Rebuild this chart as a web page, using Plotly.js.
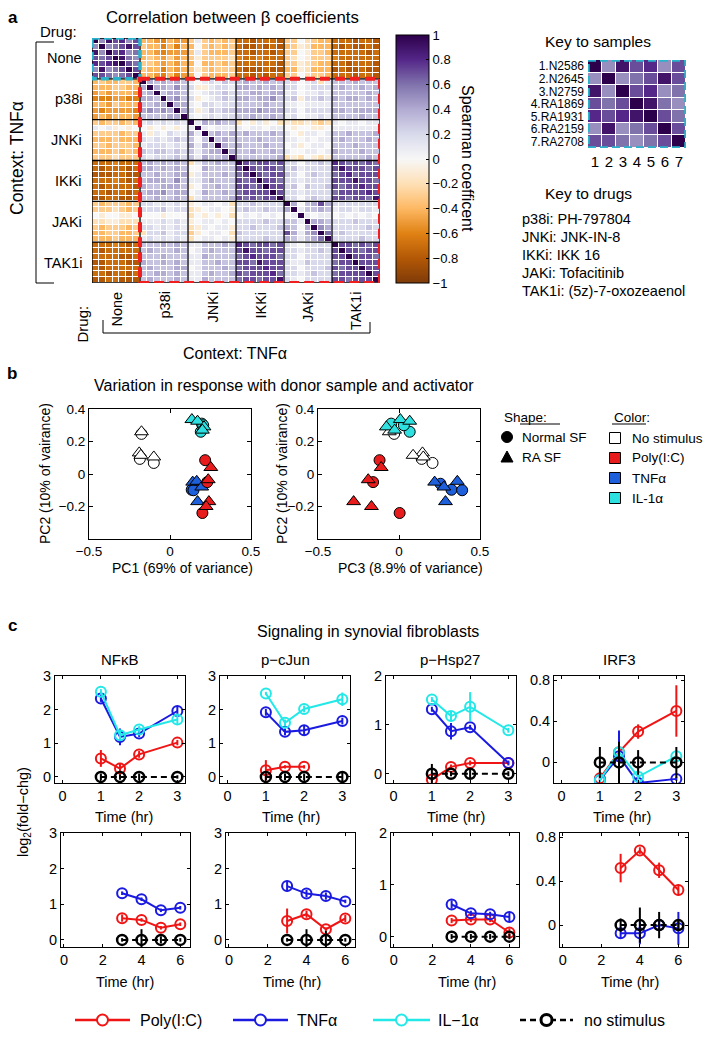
<!DOCTYPE html>
<html>
<head>
<meta charset="utf-8">
<script src="https://cdn.plot.ly/plotly-3.0.1.min.js"></script>
<style>
html,body{margin:0;padding:0;background:#fff;}
#chart{width:706px;height:1039px;}
</style>
</head>
<body>
<div id="chart"></div>
<script>
// ================= DATA =================
// ---- Panel a ----
const drugs = ['None','p38i','JNKi','IKKi','JAKi','TAK1i'];
const sampleLabels = ['1.N2586','2.N2645','3.N2759','4.RA1869','5.RA1931','6.RA2159','7.RA2708'];
const sampleTicks = ['1','2','3','4','5','6','7'];
const drugKey = ['p38i: PH-797804','JNKi: JNK-IN-8','IKKi: IKK 16','JAKi: Tofacitinib','TAK1i: (5z)-7-oxozeaenol'];
const colorbarTicks = [-1,-0.8,-0.6,-0.4,-0.2,0,0.2,0.4,0.6,0.8,1];
const colorbarText = ['\u22121','\u22120.8','\u22120.6','\u22120.4','\u22120.2','0','0.2','0.4','0.6','0.8','1'];
// Spearman coefficients read per cell, coded: j=-1.0 ... a=-0.1, 0=0, A=0.1 ... J=1.0
const LEVELS = 'jihgfedcba0ABCDEFGHIJ';
const rho_None_None   = ['JEIGHEG','EJEFGIG','IEJGHEF','GFGJIFE','HGHIJGF','EIEFGJG','GGFEFGJ'];
const rho_None_p38i   = ['ddefdee','cddfdfd','ddefeee','dcdeced','ccdeded','cddfded','ddefdfe'];
const rho_None_JNKi   = ['cAcdcdc','d0cdcdc','cAcdddc','caccccb','d0ddcdc','cacdccc','d0cdddc'];
const rho_None_IKKi   = ['gghgggh','ghhghgh','gghgghg','fggfggg','ggggggh','ghhhghh','gghghgg'];
const rho_None_JAKi   = ['cc0bcdd','dcabddd','cc0accd','cb0accc','ccabcdd','ddabddd','cc0bccd'];
const rho_None_TAK1i  = ['ggghggh','ghghhgh','ggggghg','fgggggg','gghgggh','hghhghh','ggghggh'];
const rho_p38i_p38i   = ['JDCDCDC','DJDDCEC','CDJCDDC','DDCJDEC','CCDDJDD','DEDEDJD','CCCCDDJ'];
const rho_p38i_JNKi   = ['A0ABACB','BaaABBA','A0ABBCB','Ba0ABCB','A0BBABB','BaACBCC','A0ABABB'];
const rho_p38i_IKKi   = ['CDCCDCC','DDCDCDC','CCDDCDD','DDCDDEC','CCCCDCC','DDDEDDD','CCDCCDC'];
const rho_p38i_JAKi   = ['BB0ABbA','BB0ABBB','AB0AABA','BCaBBCB','AA0AAAA','BB0BBBB','AB0AABA'];
const rho_p38i_TAK1i  = ['CCCDCCC','CDCCDCD','CCCCCDC','DCDDCDC','CCCCCCC','DDCDDDD','CCCCDCC'];
const rho_JNKi_JNKi   = ['JADCDCC','AJA0AAA','DAJCDCD','C0CJCDC','DADCJDC','CACDDJD','CADCCDJ'];
const rho_JNKi_IKKi   = ['b0aAa0b','A0AA0AA','CDCCCDC','CCCDCCC','DCCCDCC','CCDCCDC','CCCCCCD'];
const rho_JNKi_JAKi   = ['abbabcb','0a00aa0','A0aAA0A','AA0A0AA','0Aa0AA0','A00AA0A','bab0aba'];
const rho_JNKi_TAK1i  = ['A0AA0AA','AAAAAAA','CCDCCCD','CDCCCDC','CCCDCCC','DCCCDCC','CCCCCDC'];
const rho_IKKi_IKKi   = ['JGFGGFG','GJGFGGF','FGJGFGG','GFGJGGF','GGFGJGG','FGGGGJG','GFGFGGJ'];
const rho_IKKi_JAKi   = ['BB0BBCB','BCABBBB','CB0BCBB','BBABBBB','BC0CBBC','BBABBBB','BB0BCBB'];
const rho_IKKi_TAK1i  = ['HGFGFGF','GIGGGFG','FGHFGGG','GGGIGGF','GFGGHGG','FGGGGHG','GGFGGFI'];
const rho_JAKi_JAKi   = ['JD0CDGD','DJACCDC','0AJA0AA','CCAJDDC','DC0DJED','GDADEJF','DCACDFJ'];
const rho_JAKi_TAK1i  = ['BBBBBBB','ABBABBA','0A0A0A0','BBBCBBB','BBBBBCB','BCBBBBB','BBBBCBB'];
const rho_TAK1i_TAK1i = ['JGGFGFG','GJGGFGG','GGJGGGF','FGGJGGG','GFGGJGG','FGGGGJG','GGFGGGJ'];

// ---- Panel b (samples 1-3 Normal SF, 4-7 RA SF) ----
const donorType = ['Normal','Normal','Normal','RA','RA','RA','RA'];
const noStimPC1 = [-0.176,-0.186,-0.10,-0.176,-0.19,-0.18,-0.10];
const noStimPC2 = [0.247,0.093,0.068,0.26,0.13,0.115,0.105];
const noStimPC3 = [-0.03,0.14,0.207,-0.06,0.145,0.087,0.15];
const il1PC1 = [0.196,0.19,0.205,0.135,0.17,0.21,0.2];
const il1PC2 = [0.31,0.26,0.30,0.335,0.325,0.29,0.27];
const il1PC3 = [-0.048,0.066,0.03,0.008,0.066,-0.078,-0.027];
const tnfPC1 = [0.155,0.134,0.145,0.14,0.165,0.196,0.17];
const tnfPC2 = [-0.06,-0.097,-0.1,-0.05,-0.045,-0.08,-0.17];
const tnfPC3 = [0.256,0.324,0.39,0.22,0.36,0.277,0.287];
const polyPC1 = [0.217,0.23,0.2,0.252,0.236,0.24,0.223];
const polyPC2 = [0.085,-0.05,-0.24,0.04,-0.035,-0.17,-0.2];
const polyPC3 = [-0.12,-0.16,0.004,-0.11,-0.19,-0.28,-0.17];

// ---- Panel c (series order: Poly(I:C), TNFα, IL-1α, no stimulus) ----
const stimNames = ['Poly(I:C)','TNF\u03b1','IL\u22121\u03b1','no stimulus'];
const readouts = ['NF\u03baB','p\u2212cJun','p\u2212Hsp27','IRF3'];
const tEarly = [1,1.5,2,3];
const tLate = [3,4,5,6];
const nfkbEarly    = [[0.55,0.25,0.67,1.02],[2.33,1.19,1.29,1.96],[2.53,1.24,1.41,1.71],[0,0,0,0]];
const nfkbEarlyErr = [[0.25,0.15,0.1,0.08],[0.1,0.25,0.1,0.15],[0.08,0.15,0.1,0.15],[0.1,0.08,0.1,0.05]];
const cjunEarly    = [[0.2,0.3,0.3,null],[1.92,1.34,1.39,1.66],[2.48,1.61,2.02,2.31],[0,0,0,0]];
const cjunEarlyErr = [[0.3,0.05,0.05,0],[0.1,0.1,0.15,0.1],[0.05,0.1,0.1,0.2],[0.1,0.1,0.1,0.15]];
const hspEarly     = [[-0.12,0.14,0.22,0.22],[1.32,0.87,0.95,0.22],[1.52,1.18,1.37,0.89],[0,0,0,0]];
const hspEarlyErr  = [[0.05,0.05,0.05,0.03],[0.05,0.17,0.05,0.05],[0.05,0.1,0.3,0.05],[0.2,0.05,0.1,0.05]];
const irf3Early    = [[-0.155,0.1,0.3,0.5],[-0.17,0.06,-0.2,-0.16],[-0.17,0.1,-0.14,0.06],[0,0,0,0]];
const irf3EarlyErr = [[0.02,0.05,0.07,0.25],[0.02,0.25,0.02,0.02],[0.02,0.08,0.03,0.03],[0.15,0.2,0.12,0.15]];
const nfkbLate     = [[0.61,0.56,0.34,0.44],[1.31,1.14,0.83,0.9],null,[0,0,0,0]];
const nfkbLateErr  = [[0.1,0.05,0.05,0.05],[0.05,0.05,0.05,0.05],null,[0.05,0.3,0.1,0.05]];
const cjunLate     = [[0.53,0.72,0.3,0.6],[1.51,1.3,1.23,1.08],null,[0,0,0,0]];
const cjunLateErr  = [[0.35,0.1,0.05,0.1],[0.15,0.1,0.1,0.05],null,[0.05,0.3,0.25,0.05]];
const hspLate      = [[0.31,0.33,0.33,0.08],[0.62,0.45,0.43,0.38],null,[0,0,0,0]];
const hspLateErr   = [[0.05,0.05,0.05,0.08],[0.08,0.05,0.05,0.08],null,[0.05,0.05,0.05,0.05]];
const irf3Late     = [[0.52,0.68,0.5,0.32],[-0.075,-0.075,0,-0.03],null,[0,0,0,0]];
const irf3LateErr  = [[0.13,0.03,0.07,0.05],[0.05,0.1,0.05,0.15],null,[0.06,0.16,0.12,0.05]];

// ================= BUILD =================
const W = 706, H = 1039;
const FONT = '"Liberation Sans", Arial, Helvetica, sans-serif';
const px = x => x / W, py = y => 1 - y / H;

const blocks = {
  'None|None':rho_None_None,'None|p38i':rho_None_p38i,'None|JNKi':rho_None_JNKi,'None|IKKi':rho_None_IKKi,'None|JAKi':rho_None_JAKi,'None|TAK1i':rho_None_TAK1i,
  'p38i|p38i':rho_p38i_p38i,'p38i|JNKi':rho_p38i_JNKi,'p38i|IKKi':rho_p38i_IKKi,'p38i|JAKi':rho_p38i_JAKi,'p38i|TAK1i':rho_p38i_TAK1i,
  'JNKi|JNKi':rho_JNKi_JNKi,'JNKi|IKKi':rho_JNKi_IKKi,'JNKi|JAKi':rho_JNKi_JAKi,'JNKi|TAK1i':rho_JNKi_TAK1i,
  'IKKi|IKKi':rho_IKKi_IKKi,'IKKi|JAKi':rho_IKKi_JAKi,'IKKi|TAK1i':rho_IKKi_TAK1i,
  'JAKi|JAKi':rho_JAKi_JAKi,'JAKi|TAK1i':rho_JAKi_TAK1i,'TAK1i|TAK1i':rho_TAK1i_TAK1i
};
const nS = sampleLabels.length, nD = drugs.length, N = nS * nD;
const code = ch => (LEVELS.indexOf(ch) - 10) / 10;
const zMat = [];
for (let r = 0; r < N; r++) {
  const row = [];
  for (let c = 0; c < N; c++) {
    const br = Math.floor(r / nS), bc = Math.floor(c / nS), ir = r % nS, ic = c % nS;
    let ch;
    if (br < bc) ch = blocks[drugs[br] + '|' + drugs[bc]][ir][ic];
    else if (br > bc) ch = blocks[drugs[bc] + '|' + drugs[br]][ic][ir];
    else { const b = blocks[drugs[br] + '|' + drugs[bc]]; ch = ir <= ic ? b[ir][ic] : b[ic][ir]; }
    row.push(code(ch));
  }
  zMat.push(row);
}
const idx = Array.from({length: N}, (_, i) => i);
const idxS = Array.from({length: nS}, (_, i) => i);
const keyZ = zMat.slice(0, nS).map(r => r.slice(0, nS));

const PuOr = [[0,'#7f3b08'],[0.1,'#b35806'],[0.2,'#e08214'],[0.3,'#fdb863'],[0.4,'#fee0b6'],[0.5,'#f7f7f7'],[0.6,'#d8daeb'],[0.7,'#b2abd2'],[0.8,'#8073ac'],[0.9,'#542788'],[1,'#2d004b']];

const traces = [];
traces.push({
  type:'heatmap', z:zMat, x:idx, y:idx, xaxis:'x', yaxis:'y',
  colorscale:PuOr, zmin:-1, zmax:1, xgap:1, ygap:1, hoverinfo:'skip',
  colorbar:{x:px(396), xanchor:'left', y:py(35), yanchor:'top', len:248, lenmode:'pixels',
    thickness:33, thicknessmode:'pixels', outlinewidth:1, outlinecolor:'#000',
    tickvals:colorbarTicks, ticktext:colorbarText, ticks:'inside', ticklen:3, tickcolor:'#000',
    tickfont:{family:FONT, size:13, color:'#000'}, xpad:0, ypad:0}
});
traces.push({
  type:'heatmap', z:keyZ, x:idxS, y:idxS, xaxis:'x2', yaxis:'y2',
  colorscale:PuOr, zmin:-1, zmax:1, xgap:1, ygap:1, showscale:false, hoverinfo:'skip'
});

// panel b
const bConds = [
  {color:'#ffffff', pc1:noStimPC1, pc2:noStimPC2, pc3:noStimPC3},
  {color:'#2ee0e0', pc1:il1PC1, pc2:il1PC2, pc3:il1PC3},
  {color:'#1e5fdc', pc1:tnfPC1, pc2:tnfPC2, pc3:tnfPC3},
  {color:'#e81c1c', pc1:polyPC1, pc2:polyPC2, pc3:polyPC3}
];
[['x3','y3','pc1'],['x4','y4','pc3']].forEach(([xa, ya, key]) => {
  bConds.forEach(cd => {
    ['Normal','RA'].forEach(tp => {
      const sel = donorType.map((d, i) => d === tp ? i : -1).filter(i => i >= 0);
      traces.push({
        type:'scatter', mode:'markers', xaxis:xa, yaxis:ya, hoverinfo:'skip', showlegend:false,
        x: sel.map(i => cd[key][i]), y: sel.map(i => cd.pc2[i]),
        marker:{symbol: tp === 'Normal' ? 'circle' : 'triangle-up', size: tp === 'Normal' ? 11 : 12,
          color:cd.color, line:{color:'#000', width:1}}
      });
    });
  });
});

// panel c
const cColors = ['#f01414','#1a1ae0','#22e8e8','#000000'];
const cPanels = [
  {v:nfkbEarly, e:nfkbEarlyErr, t:tEarly}, {v:cjunEarly, e:cjunEarlyErr, t:tEarly},
  {v:hspEarly, e:hspEarlyErr, t:tEarly}, {v:irf3Early, e:irf3EarlyErr, t:tEarly},
  {v:nfkbLate, e:nfkbLateErr, t:tLate}, {v:cjunLate, e:cjunLateErr, t:tLate},
  {v:hspLate, e:hspLateErr, t:tLate}, {v:irf3Late, e:irf3LateErr, t:tLate}
];
cPanels.forEach((p, pi) => {
  const n = pi + 5;
  p.v.forEach((vals, k) => {
    if (!vals) return;
    traces.push({
      type:'scatter', mode:'lines+markers', x:p.t, y:vals, xaxis:'x' + n, yaxis:'y' + n,
      hoverinfo:'skip', showlegend:false, connectgaps:false,
      line:{color:cColors[k], width:2, dash: k === 3 ? '6px,4px' : 'solid'},
      marker:{symbol:'circle-open', size:10, color:cColors[k], line:{color:cColors[k], width: k === 3 ? 2.5 : 2}},
      error_y:{type:'data', array:p.e[k], visible:true, color:cColors[k], thickness:2, width:0}
    });
  });
});

// ================= LAYOUT =================
const layout = {
  width:W, height:H, margin:{l:0, r:0, t:0, b:0, pad:0},
  paper_bgcolor:'#fff', plot_bgcolor:'#fff', showlegend:false, hovermode:false,
  font:{family:FONT, size:13, color:'#000'},
  annotations:[], shapes:[]
};
const dom = (x0, x1, y0, y1) => ({x:[px(x0), px(x1)], y:[py(y1), py(y0)]});

// main heatmap axes
let d = dom(92, 380, 38, 283);
layout.xaxis = {domain:d.x, range:[-0.5, N - 0.5], visible:false, anchor:'y', fixedrange:true};
layout.yaxis = {domain:d.y, range:[N - 0.5, -0.5], visible:false, anchor:'x', fixedrange:true};
// key heatmap axes
d = dom(588, 686, 60, 148);
layout.xaxis2 = {domain:d.x, range:[-0.5, nS - 0.5], anchor:'y2', tickvals:idxS, ticktext:sampleTicks,
  ticks:'', showline:false, showgrid:false, zeroline:false, tickfont:{family:FONT, size:15}, ticklabelstandoff:3};
layout.yaxis2 = {domain:d.y, range:[nS - 0.5, -0.5], anchor:'x2', tickvals:idxS, ticktext:sampleLabels,
  ticks:'', showline:false, showgrid:false, zeroline:false, tickfont:{family:FONT, size:12}, ticklabelstandoff:3};

const boxAxis = (extra) => Object.assign({showline:true, linecolor:'#000', linewidth:1, mirror:'ticks',
  ticks:'inside', ticklen:4, tickcolor:'#000', tickwidth:1, showgrid:false, zeroline:false,
  fixedrange:true}, extra);
// panel b axes
[[89, 251, 3], [318, 480, 4]].forEach(([x0, x1, n]) => {
  const dd = dom(x0, x1, 409, 539);
  layout['xaxis' + n] = boxAxis({domain:dd.x, range:[-0.5, 0.5], tickvals:[-0.5, 0, 0.5], anchor:'y' + n,
    tickfont:{family:FONT, size:13.5}});
  layout['yaxis' + n] = boxAxis({domain:dd.y, range:[-0.4, 0.4], tickvals:[-0.2, 0, 0.2, 0.4], anchor:'x' + n,
    tickfont:{family:FONT, size:13.5}});
});
// panel c axes
const cBoxes = [[55,185,676,783],[220,350,676,783],[386,516,676,783],[554,684,676,783],
                [61,190,833,947],[226,355,833,947],[391,519,833,947],[560,688,833,947]];
const cYRange = [[-0.18,3],[-0.18,3],[-0.19,2],[-0.2,0.84],[-0.2,3],[-0.2,3],[-0.2,2],[-0.2,0.84]];
const cYTicks = [[0,1,2,3],[0,1,2,3],[0,1,2],[0,0.4,0.8],[0,1,2,3],[0,1,2,3],[0,1,2],[0,0.4,0.8]];
cBoxes.forEach((b, i) => {
  const n = i + 5, dd = dom(b[0], b[1], b[2], b[3]);
  const early = i < 4;
  layout['xaxis' + n] = boxAxis({domain:dd.x, anchor:'y' + n, range: early ? [-0.2, 3.2] : [-0.15, 6.5],
    tickvals: early ? [0,1,2,3] : [0,2,4,6], ticklen:3, tickfont:{family:FONT, size:14.5}});
  layout['yaxis' + n] = boxAxis({domain:dd.y, anchor:'x' + n, range:cYRange[i], tickvals:cYTicks[i],
    ticklen:3, tickfont:{family:FONT, size:14.5}});
});

// ---- annotations ----
const A = (text, x, y, o = {}) => layout.annotations.push(Object.assign({
  text, x:px(x), y:py(y), xref:'paper', yref:'paper', showarrow:false,
  xanchor:'center', yanchor:'middle'
}, o, {font:{family:FONT, size:o.size || 13, color:'#000'}}));

A('<b>a</b>', 13, 17, {size:17});
A('Correlation between \u03b2 coefficients', 232, 17, {size:16.8});
A('Drug:', 58, 32, {size:15});
A('Context: TNF\u03b1', 17, 158, {size:17.5, textangle:-90});
const blockH = 245 / nD, blockW = 288 / nD;
drugs.forEach((dn, i) => {
  A(dn, 84, 38 + blockH * (i + 0.5), {size:14.5, xanchor:'right'});
  A(dn, 92 + blockW * (i + 0.5), 290, {size:14.5, textangle:-90, yanchor:'top'});
});
A('Drug:', 82, 304, {size:15, textangle:-90, yanchor:'top'});
A('Context: TNF\u03b1', 235, 353, {size:16});
A('Spearman coefficent', 468, 158, {size:16, textangle:90});
A('Key to samples', 598, 42, {size:15.5});
A('Key to drugs', 588, 194, {size:15.5});
drugKey.forEach((t, i) => A(t, 520, 219 + 18 * i, {size:14.5, xanchor:'left'}));

A('<b>b</b>', 12, 373, {size:17});
A('Variation in response with donor sample and activator', 284, 385, {size:16});
A('PC2 (10% of vairance)', 45, 474, {size:14, textangle:-90});
A('PC2 (10% of vairance)', 282, 474, {size:14, textangle:-90});
A('PC1 (69% of variance)', 182, 568, {size:14});
A('PC3 (8.9% of variance)', 410, 568, {size:14});
A('Shape:', 502, 417, {size:13.5, xanchor:'left'});
A('Normal SF', 520, 437, {size:13.5, xanchor:'left'});
A('RA SF', 520, 457, {size:13.5, xanchor:'left'});
A('Color:', 612, 417, {size:13.5, xanchor:'left'});
const bLegNames = ['No stimulus','Poly(I:C)','TNF\u03b1','IL-1\u03b1'];
const bLegColors = ['#ffffff','#e81c1c','#1e5fdc','#2ee0e0'];
bLegNames.forEach((t, i) => A(t, 630, 438 + 20 * i, {size:13.5, xanchor:'left'}));

A('<b>c</b>', 12, 625, {size:17});
A('Signaling in synovial fibroblasts', 368, 631, {size:16});
[120, 285, 450, 619].forEach((x, i) => A(readouts[i], x, 659, {size:15}));
[[124,817],[291,817],[456,817],[622,817],[125,982],[292,982],[467,982],[630,982]].forEach(([x, y]) =>
  A('Time (hr)', x, y, {size:14.5}));
A('log<sub>2</sub>(fold\u2212chg)', 24, 812, {size:14.5, textangle:-90});
const legX = [[75,130,138],[233,288,295],[373,430,436],[520,573,582]];
legX.forEach(([x0, x1, tx], k) => A(stimNames[k], tx, 1020, {size:16, xanchor:'left'}));

// ---- shapes ----
const S = layout.shapes;
const lineP = (x0, y0, x1, y1, color = '#000', width = 1, dash = 'solid') =>
  S.push({type:'line', xref:'paper', yref:'paper', x0:px(x0), y0:py(y0), x1:px(x1), y1:py(y1),
    line:{color, width, dash}});
// heatmap block grid
for (let k = 1; k < nD; k++) {
  const v = k * nS - 0.5;
  S.push({type:'line', xref:'x', yref:'y', x0:v, x1:v, y0:-0.5, y1:N - 0.5, line:{color:'#000', width:1.3}});
  S.push({type:'line', xref:'x', yref:'y', y0:v, y1:v, x0:-0.5, x1:N - 0.5, line:{color:'#000', width:1.3}});
}
S.push({type:'rect', xref:'x', yref:'y', x0:-0.5, x1:N - 0.5, y0:-0.5, y1:N - 0.5, line:{color:'#000', width:1.3}});
S.push({type:'rect', xref:'x', yref:'y', x0:-0.5, x1:nS - 0.5, y0:-0.5, y1:nS - 0.5, line:{color:'#2ab4cc', width:3.5, dash:'8px,4px'}});
S.push({type:'rect', xref:'x', yref:'y', x0:nS - 0.5, x1:N - 0.5, y0:nS - 0.5, y1:N - 0.5, line:{color:'#f01e1e', width:4, dash:'10px,5px'}});
S.push({type:'rect', xref:'x2', yref:'y2', x0:-0.5, x1:nS - 0.5, y0:-0.5, y1:nS - 0.5, line:{color:'#2ab4cc', width:3.5, dash:'8px,4px'}});
// brackets
lineP(36, 42, 54, 42); lineP(36, 42, 36, 283); lineP(36, 283, 54, 283);
lineP(103, 333, 370, 333); lineP(103, 320, 103, 333); lineP(370, 322, 370, 333);
// panel b legend
lineP(520, 424, 560, 424); lineP(612, 424, 646, 424);
S.push({type:'circle', xref:'paper', yref:'paper', x0:px(501.5), x1:px(512.5), y0:py(442.5), y1:py(431.5),
  fillcolor:'#000', line:{color:'#000', width:1}});
S.push({type:'path', xref:'paper', yref:'paper',
  path:`M ${px(501)},${py(462)} L ${px(513)},${py(462)} L ${px(507)},${py(451)} Z`,
  fillcolor:'#000', line:{color:'#000', width:1}});
bLegColors.forEach((c, i) => {
  const cy = 438 + 20 * i;
  S.push({type:'rect', xref:'paper', yref:'paper', x0:px(609.5), x1:px(620.5), y0:py(cy + 5.5), y1:py(cy - 5.5),
    fillcolor:c, line:{color:'#000', width:1}});
});
// panel c legend
legX.forEach(([x0, x1], k) => {
  lineP(x0, 1020, x1, 1020, cColors[k], 2.5, k === 3 ? '6px,4px' : 'solid');
  const cx = (x0 + x1) / 2;
  S.push({type:'circle', xref:'paper', yref:'paper', x0:px(cx - 5.5), x1:px(cx + 5.5), y0:py(1025.5), y1:py(1014.5),
    fillcolor:'#fff', line:{color:cColors[k], width: k === 3 ? 3 : 2}});
});

Plotly.newPlot('chart', traces, layout, {staticPlot:true, displayModeBar:false});
</script>
</body>
</html>
